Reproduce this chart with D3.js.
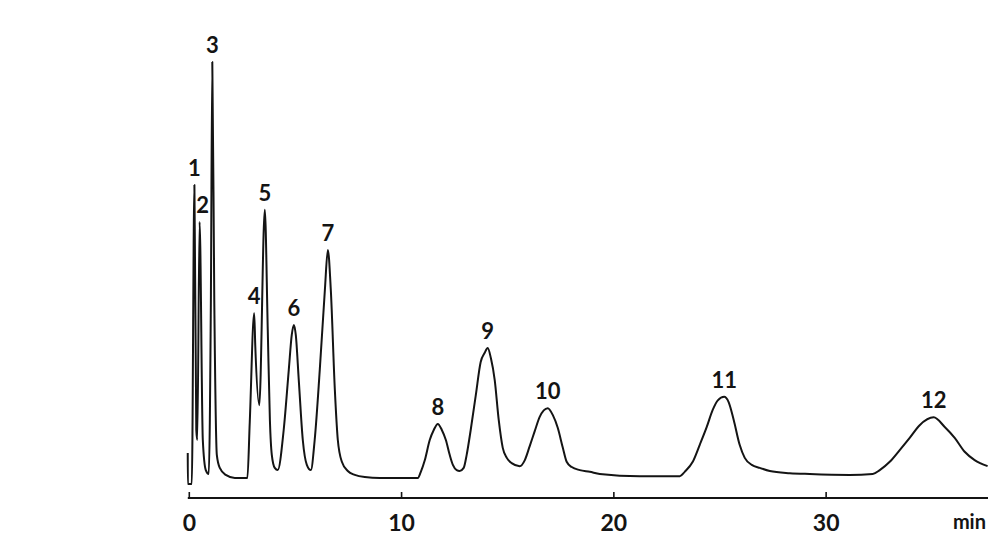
<!DOCTYPE html>
<html>
<head>
<meta charset="utf-8">
<script src="https://cdn.jsdelivr.net/npm/d3@7"></script>
<style>
  html, body { margin: 0; padding: 0; background: #ffffff; }
  svg { display: block; }
</style>
</head>
<body>
<svg id="chart" width="988" height="540"></svg>
<script>
// ---- data ----
// retention time (min)
const times = [
  -0.05, -0.045, 0.14, 0.264, 0.353, 0.40, 0.509, 0.66, 0.80, 0.94,
  1.04, 1.107, 1.20, 1.32, 1.46, 1.74, 2.17, 2.76, 2.87, 3.08,
  3.13, 3.32, 3.58, 3.72, 3.82, 3.91, 4.05, 4.19, 4.47, 4.71,
  4.85, 4.95, 5.04, 5.18, 5.37, 5.56, 5.75, 5.93, 6.17, 6.41,
  6.55, 6.69, 6.88, 7.02, 7.21, 7.49, 7.82, 8.29, 9.0, 10.79,
  10.93, 11.12, 11.35, 11.54, 11.73, 11.92, 12.11, 12.29, 12.44, 12.62,
  12.76, 12.95, 13.09, 13.28, 13.52, 13.75, 13.94, 14.08, 14.23, 14.41,
  14.6, 14.79, 14.98, 15.21, 15.59, 15.83, 16.06, 16.3, 16.53, 16.72, 16.91,
  17.15, 17.38, 17.62, 17.8, 18.04, 18.42, 18.89, 19.36, 21.24, 23.13,
  23.36, 23.74, 24.07, 24.4, 24.68, 24.92, 25.22, 25.43, 25.67, 25.95,
  26.19, 26.52, 26.9, 27.37, 28.31, 29.25, 31.13, 32.22, 32.55, 33.02,
  33.49, 33.96, 34.43, 35.09, 35.61, 36.08, 36.55, 37.02, 37.63
];
// detector signal (relative, peak 3 = 100)
const signal = [
  10.3, 3.2, 3.2, 71.8, 15.6, 13.3, 63.3, 13.3, 6.4, 5.5,
  45.4, 100, 45.4, 9.9, 6.9, 5.3, 4.6, 4.6, 17.2, 42.4,
  35.1, 21.3, 66.1, 38.5, 17.9, 9.9, 6.9, 6.4, 15.6, 29.4,
  37.4, 39.7, 37.4, 27.1, 13.3, 7.6, 6.4, 13.3, 29.4, 47.7,
  56.9, 47.7, 24.8, 13.3, 8.3, 6.2, 5.3, 4.8, 4.6, 4.6,
  6.0, 8.7, 13.3, 15.6, 17.0, 15.6, 13.3, 9.9, 7.6, 6.4,
  6.2, 6.9, 9.9, 15.6, 23.6, 31.2, 33.3, 34.4, 32.1, 27.1,
  17.9, 11.5, 9.2, 8.0, 7.3, 8.7, 11.9, 15.4, 18.6, 20.1, 20.6,
  19.0, 16.1, 11.5, 8.3, 7.1, 6.4, 6.0, 5.5, 5.0, 5.0,
  6.0, 8.3, 12.2, 16.3, 20.2, 22.4, 23.2, 22.0, 17.9, 12.2,
  9.2, 7.6, 6.9, 6.2, 5.7, 5.5, 5.3, 5.5, 6.4, 8.3,
  11.0, 13.8, 16.7, 18.5, 16.3, 13.8, 10.6, 8.7, 7.3
];
// peak numbering and their retention times
const peakLabels = ["1","2","3","4","5","6","7","8","9","10","11","12"];
const peakTimes  = [0.264, 0.509, 1.107, 3.08, 3.58, 4.95, 6.55, 11.73, 14.08, 16.91, 25.22, 35.09];
// axis
const tickValues = [0, 10, 20, 30];
const tickLabels = ["0", "10", "20", "30"];
const unitLabel = "min";

// ---- drawing ----
const svg = d3.select("#chart");
const ink = "#141414";
const fontFam = "Lato, 'Open Sans', 'DejaVu Sans', sans-serif";

const x = d3.scaleLinear().domain([0, 37.63]).range([188.8, 987.6]);
const y = d3.scaleLinear().domain([0, 100]).range([498, 62]);

const trace = times.map((t, i) => ({ t, s: signal[i] }));

// x axis
const axis = d3.axisBottom(x)
  .tickValues(tickValues)
  .tickFormat((d, i) => tickLabels[i])
  .tickSizeInner(-6)
  .tickSizeOuter(0)
  .tickPadding(17);

const gAxis = svg.append("g").attr("transform", "translate(0,498)").call(axis);
gAxis.select(".domain")
  .attr("d", `M${x(0) - 1},0H988`)
  .attr("stroke", ink).attr("stroke-width", 2);
gAxis.selectAll(".tick line").attr("stroke", ink).attr("stroke-width", 1.6);
gAxis.selectAll(".tick text")
  .attr("fill", ink)
  .style("font-family", fontFam)
  .style("font-size", "23px")
  .style("font-weight", 700);

svg.append("text")
  .attr("x", 986).attr("y", 498 + 17).attr("dy", "0.71em")
  .attr("text-anchor", "end")
  .attr("fill", ink)
  .style("font-family", fontFam)
  .style("font-size", "20px")
  .style("font-weight", 700)
  .text(unitLabel);

// chromatogram trace
const line = d3.line()
  .x(d => x(d.t))
  .y(d => y(d.s))
  .curve(d3.curveMonotoneX);

svg.append("path")
  .datum(trace)
  .attr("d", line)
  .attr("fill", "none")
  .attr("stroke", ink)
  .attr("stroke-width", 2)
  .attr("stroke-linejoin", "round");

// peak labels
peakLabels.forEach((lab, i) => {
  const pt = peakTimes[i];
  const top = d3.max(trace.filter(d => Math.abs(d.t - pt) < 0.05), d => d.s);
  svg.append("text")
    .attr("x", x(pt) + (lab === "2" ? 3 : 0))
    .attr("y", y(top) - 9)
    .attr("text-anchor", "middle")
    .attr("fill", ink)
    .style("font-family", fontFam)
    .style("font-size", "22px")
    .style("font-weight", 700)
    .text(lab);
});
</script>
</body>
</html>
